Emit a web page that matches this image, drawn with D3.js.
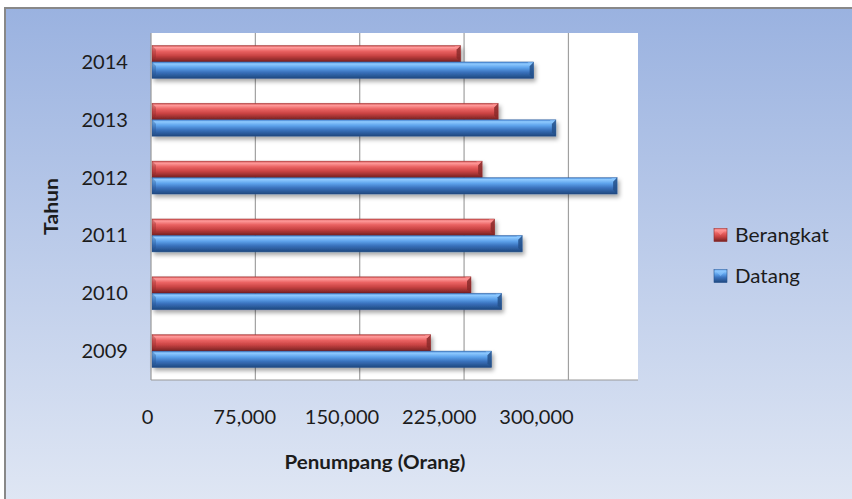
<!DOCTYPE html>
<html><head><meta charset="utf-8">
<script src="https://cdn.jsdelivr.net/npm/d3@7"></script>
<style>html,body{margin:0;padding:0;background:#fff;}svg{display:block;}</style>
</head><body>
<script>
const years = ["2009","2010","2011","2012","2013","2014"];
const seriesNames = ["Berangkat","Datang"];
const berangkat = [201000, 230000, 247000, 238000, 249500, 222500];
const datang = [244700, 252000, 266800, 335000, 291000, 275000];
const xTicks = [0, 75000, 150000, 225000, 300000];
const xTitle = "Penumpang (Orang)";
const yTitle = "Tahun";

const W = 852, H = 499;
const FS = "19.5px";
const SX = 1.03;
const svg = d3.select("body").append("svg").attr("width", W).attr("height", H);
const defs = svg.append("defs");

const bg = defs.append("linearGradient").attr("id","bg").attr("x1",0).attr("y1",0).attr("x2",0).attr("y2",1);
bg.append("stop").attr("offset","0%").attr("stop-color","#9ab2e0");
bg.append("stop").attr("offset","100%").attr("stop-color","#e0e7f4");

function grad(id, stops){
  const g = defs.append("linearGradient").attr("id",id).attr("x1",0).attr("y1",0).attr("x2",0).attr("y2",1);
  stops.forEach(s=>g.append("stop").attr("offset",s[0]).attr("stop-color",s[1]));
}
grad("gRed", [["0%","#c84444"],["12%","#ff9c9c"],["35%","#ea6262"],["62%","#c94343"],["100%","#762020"]]);
grad("gBlue",[["0%","#3f7fcf"],["12%","#8fcaff"],["35%","#5ea3ec"],["62%","#3a72bd"],["100%","#1e477e"]]);
const colors = {Berangkat:{fill:"url(#gRed)", dark:"#8a2a2a", light:"#ff8f8f"}, Datang:{fill:"url(#gBlue)", dark:"#24508a", light:"#88c4ff"}};

const f = defs.append("filter").attr("id","sh").attr("x","-5%").attr("y","-30%").attr("width","115%").attr("height","180%");
f.append("feDropShadow").attr("dx",2).attr("dy",3).attr("stdDeviation",2).attr("flood-color","#000").attr("flood-opacity",0.35);

// chart background + border
svg.append("rect").attr("x",5).attr("y",8).attr("width",W).attr("height",H).attr("fill","url(#bg)")
  .attr("stroke","#888").attr("stroke-width",2);

const plot = {left:151, right:638, top:33, bottom:380};
const x = d3.scaleLinear().domain([0,350000]).range([plot.left, plot.right]);
const y0 = d3.scaleBand().domain(years.slice().reverse()).range([plot.top, plot.bottom]).padding(0);
const bw = y0.bandwidth();
const grp = 0.57*bw;
const y1 = d3.scaleBand().domain(seriesNames).range([(bw-grp)/2, (bw+grp)/2]).padding(0);

svg.append("rect").attr("x",plot.left).attr("y",plot.top).attr("width",plot.right-plot.left).attr("height",plot.bottom-plot.top).attr("fill","#fff");

// gridlines
svg.append("g").selectAll("line").data(xTicks.slice(1)).join("line")
  .attr("x1",d=>x(d)).attr("x2",d=>x(d)).attr("y1",plot.top).attr("y2",plot.bottom)
  .attr("stroke","#a0a0a0").attr("stroke-width",1.2);
// axis lines
svg.append("line").attr("x1",plot.left).attr("x2",plot.left).attr("y1",plot.top).attr("y2",plot.bottom).attr("stroke","#999").attr("stroke-width",1.2);
svg.append("line").attr("x1",plot.left).attr("x2",plot.right).attr("y1",plot.bottom).attr("y2",plot.bottom).attr("stroke","#999").attr("stroke-width",1.2);

// bars
const rows = [];
years.forEach((yr,i)=>{
  rows.push({year:yr, s:"Berangkat", v:berangkat[i]});
  rows.push({year:yr, s:"Datang", v:datang[i]});
});
const bars = svg.append("g").selectAll("g").data(rows).join("g").attr("filter","url(#sh)");
bars.each(function(d){
  const g = d3.select(this);
  const bx0 = x(0)+1, bx1 = x(d.v);
  const by = y0(d.year)+y1(d.s), bh = y1.bandwidth();
  const c = colors[d.s];
  g.append("rect").attr("x",bx0).attr("y",by).attr("width",bx1-bx0).attr("height",bh).attr("fill",c.fill);
  const b = 4;
  g.append("path").attr("d",`M${bx1-b},${by+b}L${bx1},${by}L${bx1},${by+bh}L${bx1-b},${by+bh-b}Z`).attr("fill",c.dark).attr("opacity",0.85);
  g.append("path").attr("d",`M${bx1-b},${by+b}L${bx1},${by}L${bx1-b-2},${by}Z`).attr("fill",c.light).attr("opacity",0.7);
  g.append("path").attr("d",`M${bx0},${by}L${bx0+b},${by+b}L${bx0+b},${by+bh-b}L${bx0},${by+bh}Z`).attr("fill",c.dark).attr("opacity",0.35);
  g.append("rect").attr("x",bx0).attr("y",by).attr("width",bx1-bx0).attr("height",bh).attr("fill","none").attr("stroke",c.dark).attr("stroke-width",0.6).attr("opacity",0.6);
});

const font = "Lato, 'Open Sans', sans-serif";
const txtCol = "#1c1c1c";

function fitText(sel, target){
  const n = sel.node();
  const w = n.getComputedTextLength();
  return w > 0 ? target / w : 1;
}

// x tick labels (label positions in the reference are on their own spacing)
const xl = d3.scaleLinear().domain([0,300000]).range([147,536]);
const xAxis = svg.append("g").attr("transform",`translate(0,${424})`).call(d3.axisBottom(xl).tickValues(xTicks).tickSize(0).tickFormat(d3.format(",")));
xAxis.select(".domain").remove();
xAxis.selectAll("text").attr("y",0).attr("dy",0).attr("transform",`scale(${SX},1)`)
  .style("font-family",font).style("font-size",FS).attr("fill",txtCol);

// y tick labels
const yAxis = svg.append("g").attr("transform",`translate(128,0)`).call(d3.axisLeft(y0).tickSize(0).tickPadding(0));
yAxis.select(".domain").remove();
yAxis.selectAll("text").attr("x",0).attr("dy","0.36em").attr("transform",`scale(${SX},1)`)
  .style("font-family",font).style("font-size",FS).attr("fill",txtCol);

// titles
const xt = svg.append("text").attr("text-anchor","middle")
  .style("font-family",font).style("font-size",FS).style("font-weight","bold").attr("fill",txtCol).text(xTitle);
xt.attr("transform",`translate(375,469) scale(${fitText(xt,181)},1)`);
const yt = svg.append("text").attr("text-anchor","middle")
  .style("font-family",font).style("font-size",FS).style("font-weight","bold").attr("fill",txtCol).text(yTitle);
yt.attr("transform",`translate(58,206.5) rotate(-90) scale(${fitText(yt,57)},1)`);

// legend
const leg = svg.append("g");
const legY = d3.scaleOrdinal().domain(seriesNames).range([235, 276]);
const legW = {Berangkat:94, Datang:65};
seriesNames.forEach(s=>{
  const cy = legY(s);
  leg.append("rect").attr("x",714).attr("y",cy-6.5).attr("width",13).attr("height",13).attr("fill",colors[s].fill).attr("stroke",colors[s].dark).attr("stroke-width",0.6);
  leg.append("path").attr("d",`M714,${cy-6.5}L727,${cy-6.5}L720.5,${cy}Z`).attr("fill",colors[s].light).attr("opacity",0.6);
  const t = leg.append("text").attr("dy","0.36em")
    .style("font-family",font).style("font-size",FS).attr("fill",txtCol).text(s);
  t.attr("transform",`translate(735,${cy}) scale(${fitText(t,legW[s])},1)`);
});
</script>
</body></html>
